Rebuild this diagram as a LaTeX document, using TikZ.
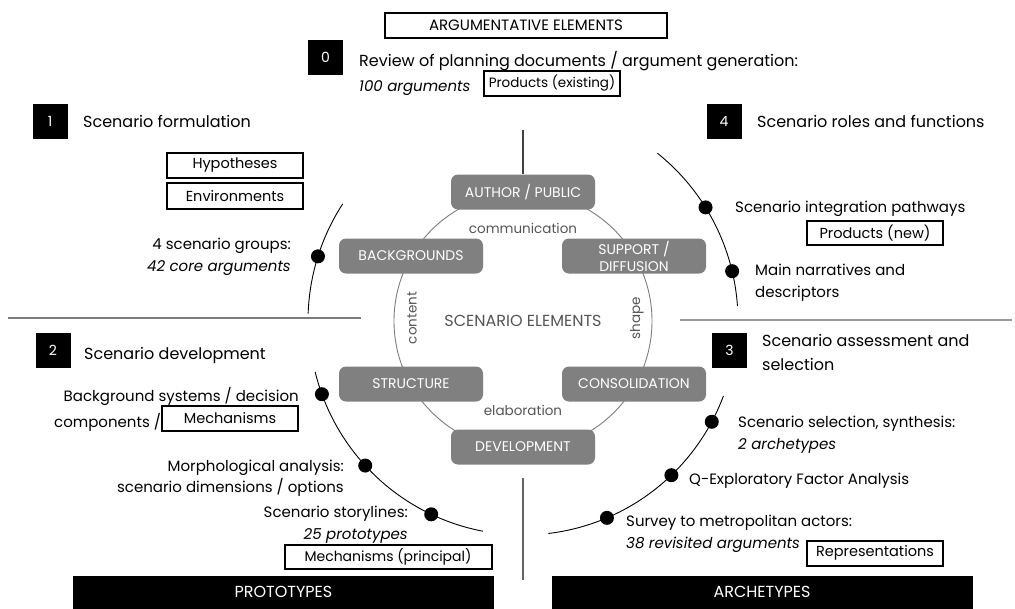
\documentclass[tikz,border=0pt]{standalone}
\usepackage{fontspec}
\setmainfont{Poppins}
\usepackage{tikz}
\usetikzlibrary{calc}
\definecolor{boxgray}{RGB}{128,128,128}
\definecolor{txtgray}{RGB}{85,85,85}
\definecolor{linegray}{RGB}{125,125,125}

\begin{document}
\begin{tikzpicture}[x=1pt,y=-1pt,
  numbox/.style={fill=black,text=white,minimum width=35pt,minimum height=35pt,inner sep=0pt,font=\fontsize{14}{16}\selectfont},
  lbl/.style={inner sep=0pt,font=\fontsize{15}{18}\selectfont},
  head/.style={inner sep=0pt,font=\fontsize{16}{19}\selectfont},
  ital/.style={inner sep=0pt,font=\fontsize{15}{18}\selectfont\itshape},
  tagbox/.style={draw,line width=2pt,minimum width=136pt,minimum height=25pt,inner sep=0pt,font=\fontsize{14.5}{17}\selectfont},
  elem/.style={fill=boxgray,text=white,rounded corners=7pt,minimum width=144pt,minimum height=35pt,inner sep=0pt,align=center,font=\fontsize{14}{17}\selectfont},
  bar/.style={fill=black,text=white,minimum width=421pt,minimum height=33pt,inner sep=0pt,font=\fontsize{16}{18}\selectfont},
  stopdot/.style={circle,fill=black,inner sep=0pt,minimum size=14pt},
  ringlbl/.style={text=txtgray,inner sep=0pt,font=\fontsize{13.5}{16}\selectfont}]
\useasboundingbox (0,0) rectangle (1015,608);
\coordinate (ctr) at (523,321);

% scenario elements ring
\draw [linegray, line width=0.9pt] (ctr) circle [radius=129pt];
\node [ringlbl, font=\fontsize{16}{18}\selectfont] (scel) at (ctr) {SCENARIO ELEMENTS};
\node [ringlbl] (comm) at (523,228) {communication};
\node [ringlbl, rotate=90] (cont) at (412,318) {content};
\node [ringlbl, rotate=90] (shp) at (637,318) {shape};
\node [ringlbl] (elab) at (523,410) {elaboration};
\node [elem] (author) at (523,192) {AUTHOR / PUBLIC};
\node [elem] (backgr) at (411,256) {BACKGROUNDS};
\node [elem] (support) at (634,256) {SUPPORT /\\DIFFUSION};
\node [elem] (struct) at (411,384) {STRUCTURE};
\node [elem] (consol) at (634,384) {CONSOLIDATION};
\node [elem] (develop) at (523,447) {DEVELOPMENT};

% axes and separators
\coordinate (topend) at (523,130);
\coordinate (botstart) at (523,478);
\coordinate (botend) at (523,580);
\draw [black!75, line width=1.5pt] (topend) -- (author.north);
\draw [black!60, line width=1.8pt] (botstart) -- (botend);
\coordinate (sepla) at (8,318);
\coordinate (seplb) at (361,318);
\coordinate (sepra) at (680,320);
\coordinate (seprb) at (1012,320);
\draw [linegray, line width=2pt] (sepla) -- (seplb);
\draw [black!40, line width=1.6pt] (sepra) -- (seprb);

% outer arcs of the process
\draw [line width=0.9pt, domain=182:213, samples=40] plot ({523+215*cos(\x)},{321+215*sin(\x)});
\draw [line width=0.9pt, domain=-51.3:-4, samples=40] plot ({523+215*cos(\x)},{321+215*sin(\x)});
\draw [line width=0.9pt, domain=100.8:166.2, samples=60] plot ({523+214*cos(\x)},{321+214*sin(\x)});
\draw [line width=0.9pt, domain=20.5:83.2, samples=60] plot ({523+214*cos(\x)},{321+214*sin(\x)});
\node [stopdot] (d1a) at ($(ctr)+(197.5:215)$) {};
\node [stopdot] (d4a) at ($(ctr)+(-31.9:215)$) {};
\node [stopdot] (d4b) at ($(ctr)+(-13.4:215)$) {};
\node [stopdot] (d2a) at ($(ctr)+(160:214)$) {};
\node [stopdot] (d2b) at ($(ctr)+(137.5:214)$) {};
\node [stopdot] (d2c) at ($(ctr)+(115.4:214)$) {};
\node [stopdot] (d3a) at ($(ctr)+(28.1:214)$) {};
\node [stopdot] (d3b) at ($(ctr)+(46.1:214)$) {};
\node [stopdot] (d3c) at ($(ctr)+(66.9:214)$) {};

% step 0
\node [tagbox, minimum width=282pt, font=\fontsize{15}{17}\selectfont] (argel) at (526,25) {ARGUMENTATIVE ELEMENTS};
\node [numbox] (n0) at (325.5,57.5) {0};
\node [head, anchor=base west] (rev) at (359,66) {Review of planning documents / argument generation:};
\node [ital, anchor=base west] (arg100) at (359,91) {100 arguments};
\node [tagbox, font=\fontsize{13.5}{16}\selectfont] (prodex) at (552,83.5) {Products (existing)};

% step 1
\node [numbox] (n1) at (50,121) {1};
\node [head, anchor=base west] (s1) at (83,127) {Scenario formulation};
\node [tagbox] (hypo) at (235,165) {Hypotheses};
\node [tagbox, minimum height=26pt] (envi) at (235,196) {Environments};
\node [lbl, anchor=base east] (grp) at (291,249) {4 scenario groups:};
\node [ital, anchor=base east] (core) at (291,271) {42 core arguments};

% step 4
\node [numbox] (n4) at (724,121) {4};
\node [head, anchor=base west] (s4) at (757,127) {Scenario roles and functions};
\node [lbl, anchor=base west] (integ) at (735,212) {Scenario integration pathways};
\node [tagbox, minimum height=24pt] (prodnew) at (875,233) {Products (new)};
\node [lbl, anchor=base west] (narr) at (755,275) {Main narratives and};
\node [lbl, anchor=base west] (descr) at (755,297) {descriptors};

% step 2
\node [numbox] (n2) at (53,350) {2};
\node [head, anchor=base west] (s2) at (84,359) {Scenario development};
\node [lbl, anchor=base east] (bsys) at (299,401) {Background systems / decision};
\node [lbl, anchor=base west] (comp) at (54,427) {components /};
\node [tagbox] (mech) at (230,418) {Mechanisms};
\node [lbl, anchor=base east] (morph) at (344,471) {Morphological analysis:};
\node [lbl, anchor=base east] (dims) at (344,492) {scenario dimensions / options};
\node [lbl, anchor=base east] (story) at (408,517) {Scenario storylines:};
\node [ital, anchor=base east] (proto25) at (408,539) {25 prototypes};
\node [tagbox, minimum width=207pt, minimum height=24pt, font=\fontsize{14}{16}\selectfont] (mechp) at (388,557) {Mechanisms (principal)};
\node [bar] (protos) at (283.5,592) {PROTOTYPES};

% step 3
\node [numbox] (n3) at (729.5,350) {3};
\node [head, anchor=base west] (s3a) at (762,346) {Scenario assessment and};
\node [head, anchor=base west] (s3b) at (762,370) {selection};
\node [lbl, anchor=base west] (selec) at (738,427) {Scenario selection, synthesis:};
\node [ital, anchor=base west] (arch2) at (738,449) {2 archetypes};
\node [lbl, anchor=base west] (qefa) at (689,484) {Q-Exploratory Factor Analysis};
\node [lbl, anchor=base west] (surv) at (626,526) {Survey to metropolitan actors:};
\node [ital, anchor=base west] (arg38) at (626,548) {38 revisited arguments};
\node [tagbox] (repr) at (875,553) {Representations};
\node [bar] (archs) at (762,592) {ARCHETYPES};
\end{tikzpicture}
\end{document}
